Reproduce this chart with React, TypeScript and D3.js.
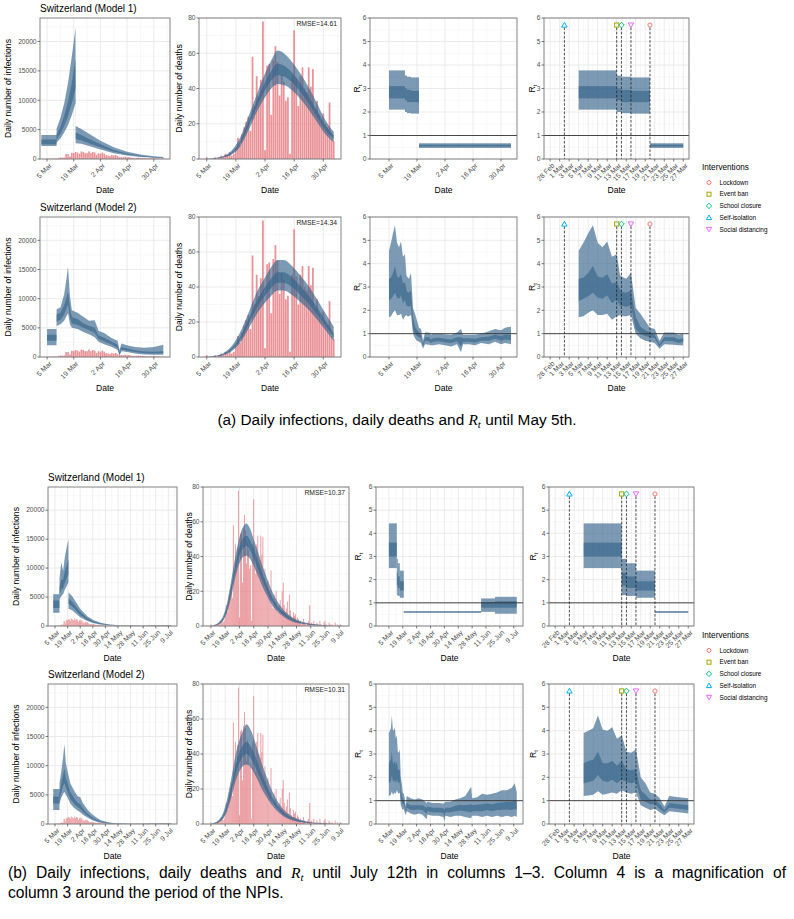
import React, { useLayoutEffect, useRef, useState } from "react";
import * as d3 from "d3";

type Band = [string, number, number, number, number]; // date, lo95, lo50, hi50, hi95
type Step = [string, string, number, number, number, number]; // start, end, lo95, lo50, hi50, hi95

const FONT = "'Liberation Sans', Arial, Helvetica, sans-serif";
const pd = (s: string): Date =>
  new Date(`2020-${s}${s.includes("T") ? ":00:00Z" : "T00:00:00Z"}`);

// ---------------- DATA ----------------
const DAY0 = "03-01";
// reported daily deaths, 1 Mar .. 12 Jul
const DEATHS = [
  0, 0, 0, 0, 1, 0, 0, 0, 1, 0, 1, 2, 1, 3, 2, 4, 2, 3, 6, 12, 8, 14, 18, 21, 24, 16, 58, 30, 47, 35, 45,
  78, 5, 53, 54, 25, 56, 64, 55, 36, 48, 44, 33, 35, 3, 47, 73, 46, 30, 47, 52, 40, 38, 52, 41, 51, 28, 33, 25, 22, 26,
  20, 18, 32, 12, 10, 18, 14, 20, 10, 8, 12, 15, 9, 20, 25, 12, 8, 10, 14, 6, 18, 9, 5, 4, 8, 6, 7, 3, 5, 4, 2,
  3, 1, 2, 4, 2, 1, 0, 2, 3, 12, 1, 2, 0, 3, 1, 0, 2, 1, 0, 3, 1, 0, 0, 2, 3, 1, 0, 0, 2, 1,
  0, 1, 0, 0, 2, 0, 1, 0, 0, 1, 0, 0,
];
// reported daily cases, 1 Mar .. 12 Jul
const CASES = [
  9, 8, 6, 10, 26, 30, 60, 55, 68, 42, 157, 241, 234, 254, 859, 841, 450, 1066, 1000, 1200, 1100, 900, 1300, 1200, 1000, 1000, 1300, 1000, 1200, 1100, 700,
  1000, 900, 1100, 900, 650, 600, 500, 700, 600, 700, 500, 300, 350, 300, 400, 300, 350, 250, 200, 150, 200, 250, 200, 180, 150, 100, 80, 120, 100, 150,
  100, 80, 60, 50, 70, 60, 50, 40, 50, 40, 30, 40, 30, 25, 30, 20, 25, 30, 20, 15, 20, 25, 20, 15, 10, 15, 20, 25, 30, 20, 25,
  30, 25, 20, 25, 30, 20, 25, 15, 20, 25, 30, 35, 20, 25, 30, 40, 35, 30, 40, 50, 45, 40, 60, 55, 50, 60, 70, 65, 60, 55,
  80, 90, 100, 110, 70, 60, 100, 120, 110, 90, 80, 70,
];

const INF_M1_MAY: Band[] = [
  ["03-02", 2200, 2500, 3300, 4100],
  ["03-09T23", 2200, 2500, 3300, 4100],
  ["03-10", 2800, 3300, 4200, 5200],
  ["03-12", 3500, 4300, 5500, 7000],
  ["03-14", 4500, 5600, 7400, 9500],
  ["03-16", 5800, 7300, 9800, 13000],
  ["03-18", 7500, 9500, 13000, 17500],
  ["03-19T22", 9500, 12000, 17000, 22300],
  ["03-20", 2700, 3400, 4500, 5600],
  ["03-23", 2600, 3200, 4100, 5100],
  ["03-27", 2200, 2700, 3400, 4300],
  ["04-02", 1600, 2000, 2500, 3100],
  ["04-09", 1000, 1250, 1550, 2000],
  ["04-16", 600, 750, 950, 1250],
  ["04-23", 350, 450, 570, 780],
  ["04-30", 200, 260, 340, 470],
  ["05-05", 130, 170, 230, 330],
];
const INF_M2_MAY: Band[] = [
  ["03-05", 2000, 2800, 3800, 4800],
  ["03-09T23", 2000, 2800, 3800, 4800],
  ["03-10", 5300, 6100, 7300, 8200],
  ["03-12", 5600, 6400, 7600, 8500],
  ["03-14", 6200, 7300, 8900, 10800],
  ["03-15", 6900, 8200, 10000, 13000],
  ["03-16", 7500, 9000, 11200, 15500],
  ["03-17", 5600, 6800, 8300, 10500],
  ["03-18", 5000, 5800, 6800, 8000],
  ["03-21", 4800, 5500, 6500, 7600],
  ["03-24", 4300, 5000, 5800, 6900],
  ["03-27", 3900, 4600, 5300, 6200],
  ["03-30", 3400, 4100, 5000, 6300],
  ["04-01", 2600, 3100, 3700, 4500],
  ["04-04", 2200, 2700, 3300, 4100],
  ["04-08", 1700, 2100, 2600, 3200],
  ["04-11", 1200, 1600, 2100, 2800],
  ["04-12", 200, 400, 700, 1200],
  ["04-13", 1000, 1300, 1700, 2300],
  ["04-16", 850, 1100, 1450, 2000],
  ["04-20", 600, 850, 1150, 1700],
  ["04-25", 450, 650, 950, 1600],
  ["04-30", 400, 600, 900, 1700],
  ["05-05", 400, 650, 1000, 2100],
];
const INF_M1_JUL: Band[] = [
  ["03-03", 2300, 3100, 4400, 5500],
  ["03-09T23", 2300, 3100, 4400, 5500],
  ["03-10", 4500, 5400, 6700, 8200],
  ["03-12", 5200, 6300, 8000, 11000],
  ["03-14", 5500, 6500, 8000, 9500],
  ["03-16", 6300, 7500, 9500, 12000],
  ["03-19T22", 7500, 9000, 11500, 15000],
  ["03-20", 3000, 3800, 4800, 5800],
  ["03-24", 2700, 3400, 4200, 5200],
  ["04-02", 1500, 1900, 2400, 3000],
  ["04-10", 850, 1050, 1350, 1700],
  ["04-17", 480, 600, 780, 1000],
  ["04-25", 250, 320, 420, 560],
  ["05-03", 130, 170, 230, 310],
  ["05-15", 50, 65, 90, 130],
  ["06-01", 15, 20, 28, 40],
  ["06-10", 10, 14, 20, 30],
  ["06-22", 12, 18, 28, 45],
  ["07-12", 15, 25, 40, 70],
];
const INF_M2_JUL: Band[] = [
  ["03-03", 2400, 3500, 4700, 6000],
  ["03-09T23", 2400, 3500, 4700, 6000],
  ["03-10", 3500, 4300, 5500, 7000],
  ["03-12", 4500, 5500, 7000, 9000],
  ["03-14", 5200, 6500, 8500, 11500],
  ["03-15T12", 5500, 7000, 9500, 13700],
  ["03-17", 5000, 6300, 8000, 10500],
  ["03-19", 4500, 5500, 7000, 9000],
  ["03-22", 3500, 4300, 5500, 7000],
  ["03-26", 2800, 3500, 4500, 5800],
  ["03-30", 2300, 2900, 3700, 4800],
  ["04-02", 2000, 2600, 3400, 4600],
  ["04-05", 1600, 2100, 2700, 3600],
  ["04-10", 1100, 1400, 1800, 2500],
  ["04-15", 700, 900, 1200, 1700],
  ["04-20", 400, 550, 750, 1100],
  ["04-25", 220, 310, 430, 650],
  ["05-02", 100, 150, 220, 350],
  ["05-10", 40, 60, 90, 150],
  ["05-20", 15, 25, 40, 70],
  ["06-01", 8, 12, 20, 40],
  ["06-20", 10, 15, 25, 50],
  ["07-12", 15, 25, 45, 90],
];

const DEA_M1_MAY: Band[] = [
  ["03-05", 0, 0, 0.05, 0.1],
  ["03-09", 0.2, 0.3, 0.4, 0.6],
  ["03-13", 0.8, 1.0, 1.3, 1.7],
  ["03-17", 2.5, 3.0, 3.8, 4.8],
  ["03-21", 7, 8.5, 10, 12],
  ["03-25", 16, 18.5, 21, 24],
  ["03-29", 26.5, 29.5, 33, 36.5],
  ["04-02", 35, 39, 43.5, 48.5],
  ["04-05", 40, 44.5, 50, 56],
  ["04-08", 42.5, 47.5, 54, 61.5],
  ["04-11", 42, 47, 53, 60],
  ["04-15", 39, 43.5, 49, 55],
  ["04-19", 34, 38, 43, 48.5],
  ["04-23", 28, 31.5, 35.5, 40.5],
  ["04-27", 21, 24, 27.5, 31.5],
  ["05-01", 14, 16.5, 19, 22],
  ["05-05", 9.5, 11.5, 13.5, 15.5],
];
const DEA_M2_MAY: Band[] = [
  ["03-05", 0, 0, 0.05, 0.1],
  ["03-09", 0.2, 0.3, 0.5, 0.7],
  ["03-13", 1, 1.3, 1.7, 2.2],
  ["03-17", 3.3, 4.1, 5.1, 6.3],
  ["03-21", 8, 9.5, 11.5, 14],
  ["03-25", 16, 18.5, 21.5, 25],
  ["03-29", 24.5, 28, 32, 37],
  ["04-02", 31, 35, 40, 45.5],
  ["04-05", 35, 39.5, 45, 51.5],
  ["04-08", 38, 42.5, 48.5, 55.5],
  ["04-11", 38, 42.5, 48.5, 55.5],
  ["04-15", 35.5, 40, 45.5, 52],
  ["04-19", 31.5, 35.5, 40.5, 46.5],
  ["04-23", 27, 30.5, 35, 40.5],
  ["04-27", 21.5, 24.5, 28.5, 33],
  ["05-01", 15.5, 18, 21, 25],
  ["05-05", 9, 11, 13.5, 17.5],
];
const DEA_M1_JUL: Band[] = [
  ["03-05", 0, 0, 0.05, 0.1],
  ["03-09", 0.2, 0.3, 0.5, 0.7],
  ["03-13", 1, 1.3, 1.7, 2.2],
  ["03-17", 3, 3.8, 4.7, 5.8],
  ["03-21", 8, 9.5, 11.5, 13.5],
  ["03-25", 17, 20, 23, 26.5],
  ["03-29", 28, 31.5, 35.5, 40],
  ["04-02", 36, 40.5, 45.5, 51],
  ["04-06", 40, 45, 51, 57.5],
  ["04-09", 40.5, 46, 52, 59],
  ["04-12", 39, 44, 50, 56.5],
  ["04-16", 34.5, 39, 44.5, 50],
  ["04-20", 29, 33, 38, 43],
  ["04-24", 23.5, 27, 31, 35.5],
  ["04-28", 18.5, 21.5, 25, 29],
  ["05-03", 13, 15, 18, 21.5],
  ["05-09", 8.5, 10, 12, 14.5],
  ["05-15", 5.5, 6.5, 8, 9.5],
  ["05-22", 3, 3.8, 4.7, 5.8],
  ["05-31", 1.4, 1.8, 2.3, 3],
  ["06-10", 0.6, 0.8, 1.1, 1.4],
  ["06-20", 0.25, 0.35, 0.5, 0.65],
  ["07-01", 0.1, 0.15, 0.2, 0.3],
  ["07-12", 0.05, 0.07, 0.1, 0.15],
];
const DEA_M2_JUL: Band[] = [
  ["03-05", 0, 0, 0.05, 0.1],
  ["03-09", 0.2, 0.3, 0.5, 0.8],
  ["03-13", 1, 1.3, 1.8, 2.5],
  ["03-17", 3, 3.8, 5, 6.5],
  ["03-21", 7.5, 9, 11.5, 14.5],
  ["03-25", 15, 18, 21.5, 26],
  ["03-29", 24, 28, 33, 39],
  ["04-02", 30, 35, 41, 48],
  ["04-06", 33.5, 39, 45.5, 54],
  ["04-09", 34, 40, 47, 57],
  ["04-12", 33, 38.5, 45.5, 55],
  ["04-16", 29.5, 34.5, 41, 49.5],
  ["04-20", 25, 29.5, 35, 42],
  ["04-24", 20, 24, 28.5, 34.5],
  ["04-28", 16, 19, 23, 28],
  ["05-03", 11.5, 13.5, 16.5, 20.5],
  ["05-09", 7.5, 9, 11, 13.5],
  ["05-15", 4.5, 5.5, 7, 8.5],
  ["05-22", 2.5, 3.2, 4, 5],
  ["05-31", 1.2, 1.5, 2, 2.6],
  ["06-10", 0.5, 0.65, 0.9, 1.2],
  ["06-20", 0.2, 0.3, 0.4, 0.55],
  ["07-01", 0.08, 0.12, 0.17, 0.25],
  ["07-12", 0.04, 0.06, 0.08, 0.12],
];

const RT_M1_MAY: Step[] = [
  ["03-05", "03-13", 2.1, 2.58, 3.1, 3.77],
  ["03-13", "03-14", 2.0, 2.5, 3.0, 3.55],
  ["03-14", "03-16", 1.95, 2.42, 2.94, 3.5],
  ["03-16", "03-20", 1.93, 2.42, 2.9, 3.47],
  ["03-20", "05-05", 0.47, 0.53, 0.61, 0.67],
];
const RT_M1_JUL: Step[] = [
  ["03-05", "03-13", 2.5, 3.0, 3.6, 4.43],
  ["03-13", "03-14", 1.33, 1.75, 2.3, 2.9],
  ["03-14", "03-16", 1.3, 1.64, 2.14, 2.71],
  ["03-16", "03-20", 1.22, 1.53, 1.93, 2.39],
  ["03-20", "06-06", 0.57, 0.59, 0.62, 0.64],
  ["06-06", "06-20", 0.61, 0.79, 1.03, 1.19],
  ["06-20", "07-12", 0.53, 0.79, 1.07, 1.26],
];
const RT_M2_MAY: Band[] = [
  ["03-05", 1.7, 2.4, 3.35, 4.55],
  ["03-06", 1.75, 2.5, 3.4, 4.9],
  ["03-07", 1.9, 2.6, 3.6, 5.3],
  ["03-08", 2.0, 2.75, 3.9, 5.65],
  ["03-09", 1.8, 2.55, 3.45, 4.9],
  ["03-10", 1.8, 2.5, 3.4, 4.7],
  ["03-11", 1.85, 2.65, 3.55, 4.95],
  ["03-12", 1.6, 2.3, 3.15, 4.3],
  ["03-13", 1.75, 2.45, 3.2, 4.4],
  ["03-13T17", 1.8, 2.2, 2.9, 3.5],
  ["03-14", 1.75, 2.2, 2.8, 3.45],
  ["03-15", 1.75, 2.15, 2.75, 3.35],
  ["03-16", 1.8, 2.2, 2.85, 3.6],
  ["03-17", 1.0, 1.2, 1.7, 2.1],
  ["03-18", 0.8, 1.0, 1.3, 1.85],
  ["03-19", 0.7, 0.9, 1.15, 1.55],
  ["03-20", 0.65, 0.85, 1.05, 1.25],
  ["03-21", 0.6, 0.8, 0.95, 1.2],
  ["03-22", 0.35, 0.45, 0.55, 0.7],
  ["03-23", 0.55, 0.7, 0.85, 1.05],
  ["03-25", 0.52, 0.68, 0.85, 1.05],
  ["03-26", 0.5, 0.6, 0.75, 0.95],
  ["03-27", 0.5, 0.65, 0.8, 1.0],
  ["03-30", 0.55, 0.68, 0.82, 1.0],
  ["04-02", 0.5, 0.63, 0.78, 0.98],
  ["04-05", 0.45, 0.6, 0.75, 0.95],
  ["04-08", 0.55, 0.68, 0.85, 1.05],
  ["04-10", 0.2, 0.45, 0.85, 1.2],
  ["04-11", 0.55, 0.65, 0.8, 0.95],
  ["04-14", 0.55, 0.65, 0.8, 0.95],
  ["04-17", 0.5, 0.62, 0.78, 0.95],
  ["04-20", 0.6, 0.7, 0.85, 1.0],
  ["04-24", 0.55, 0.7, 0.88, 1.1],
  ["04-27", 0.65, 0.78, 0.95, 1.2],
  ["04-30", 0.55, 0.7, 0.9, 1.15],
  ["05-02", 0.6, 0.75, 0.95, 1.25],
  ["05-05", 0.55, 0.72, 0.95, 1.3],
];
const RT_M2_JUL: Band[] = [
  ["03-05", 1.2, 1.75, 2.6, 3.9],
  ["03-06", 1.22, 1.8, 2.7, 4.0],
  ["03-07", 1.25, 1.85, 2.75, 4.1],
  ["03-08", 1.4, 2.1, 3.1, 4.65],
  ["03-09", 1.25, 1.85, 2.6, 4.05],
  ["03-10", 1.3, 1.8, 2.6, 4.0],
  ["03-11", 1.35, 1.9, 2.7, 4.15],
  ["03-12", 1.3, 1.75, 2.5, 3.65],
  ["03-13", 1.45, 1.9, 2.7, 3.8],
  ["03-14", 1.35, 1.8, 2.35, 3.1],
  ["03-15", 1.3, 1.75, 2.3, 3.05],
  ["03-16", 1.35, 1.8, 2.35, 3.2],
  ["03-17", 0.8, 1.05, 1.45, 2.0],
  ["03-18", 0.7, 0.95, 1.25, 1.75],
  ["03-19", 0.6, 0.85, 1.05, 1.35],
  ["03-20", 0.65, 0.85, 1.05, 1.3],
  ["03-21", 0.5, 0.65, 0.85, 1.1],
  ["03-22", 0.38, 0.5, 0.6, 0.75],
  ["03-23", 0.55, 0.7, 0.9, 1.2],
  ["03-25", 0.5, 0.65, 0.85, 1.15],
  ["03-27", 0.45, 0.6, 0.8, 1.1],
  ["03-31", 0.4, 0.6, 0.8, 1.05],
  ["04-04", 0.45, 0.62, 0.8, 1.1],
  ["04-08", 0.4, 0.6, 0.8, 1.05],
  ["04-12", 0.2, 0.45, 0.7, 0.9],
  ["04-13", 0.4, 0.55, 0.75, 0.95],
  ["04-18", 0.35, 0.5, 0.7, 0.9],
  ["04-24", 0.35, 0.5, 0.7, 0.9],
  ["04-29", 0.3, 0.48, 0.68, 0.88],
  ["04-30", 0.1, 0.3, 0.6, 0.9],
  ["05-01", 0.35, 0.5, 0.7, 0.95],
  ["05-06", 0.3, 0.5, 0.7, 0.95],
  ["05-11", 0.35, 0.55, 0.78, 1.05],
  ["05-16", 0.35, 0.58, 0.82, 1.1],
  ["05-21", 0.3, 0.55, 0.8, 1.2],
  ["05-27", 0.25, 0.5, 0.85, 1.6],
  ["05-28", 0.35, 0.55, 0.8, 1.1],
  ["06-02", 0.35, 0.55, 0.82, 1.15],
  ["06-07", 0.3, 0.55, 0.85, 1.3],
  ["06-12", 0.35, 0.6, 0.88, 1.25],
  ["06-17", 0.3, 0.55, 0.85, 1.3],
  ["06-22", 0.35, 0.6, 0.9, 1.35],
  ["06-27", 0.3, 0.6, 0.92, 1.45],
  ["07-02", 0.35, 0.62, 0.95, 1.45],
  ["07-07", 0.3, 0.6, 0.95, 1.55],
  ["07-10", 0.35, 0.65, 1.0, 1.75],
  ["07-12", 0.3, 0.6, 0.95, 1.35],
];

const TITLES = ["Switzerland (Model 1)", "Switzerland (Model 2)", "Switzerland (Model 1)", "Switzerland (Model 2)"];
const RMSE = ["RMSE=14.61", "RMSE=14.34", "RMSE=10.37", "RMSE=10.31"];

const TICKS_MAY = ["03-05", "03-19", "04-02", "04-16", "04-30"];
const TICKS_JUL = ["03-05", "03-19", "04-02", "04-16", "04-30", "05-14", "05-28", "06-11", "06-25", "07-09"];
const TICKS_ZOOM = ["02-28", "03-01", "03-03", "03-05", "03-07", "03-09", "03-11", "03-13", "03-15", "03-17", "03-19", "03-21", "03-23", "03-25", "03-27"];
const INF_TICKS = [0, 5000, 10000, 15000, 20000];
const DEA_TICKS = [0, 20, 40, 60, 80];
const RT_TICKS = [0, 1, 2, 3, 4, 5, 6];

const NPI_NAMES = ["Lockdown", "Event ban", "School closure", "Self-isolation", "Social distancing"];
const NPI_DATES = ["03-20", "03-13", "03-14", "03-02", "03-16"];
const NPI_COLORS = ["#F8766D", "#A3A500", "#00BF7D", "#00B0F6", "#E76BF3"];

// ---------------- LAYOUT ----------------
const TOP_COLS = [[40, 170], [199, 341], [370, 517], [544, 689]];
const BOT_COLS = [[48, 177], [203, 349], [376, 523], [549, 694]];
const ROWS = [
  { T: 18, B: 159, cols: TOP_COLS, ylab: [7.5, 179, 356.7, 531.7], dateY: 193, may: true },
  { T: 217, B: 357, cols: TOP_COLS, ylab: [7.5, 179, 356.7, 531.7], dateY: 391, may: true },
  { T: 487, B: 626, cols: BOT_COLS, ylab: [15.8, 189, 358.3, 532.5], dateY: 661, may: false },
  { T: 684, B: 824, cols: BOT_COLS, ylab: [15.8, 189, 358.3, 532.5], dateY: 859, may: false },
];
const XD_MAY12: [string, string] = ["03-01T07", "05-08T12"];
const XD_MAY3: [string, string] = ["02-24T12", "05-08T00"];
const XD_JUL12: [string, string] = ["02-26T05", "07-18T14"];
const XD_JUL3: [string, string] = ["02-21T00", "07-18T07"];
const XD_ZOOM: [string, string] = ["02-26T17", "03-28T05"];

const BAND = "#36648B";
const BAR = "#e3787e";
const TXT = "#4d4d4d";
const CAP = 15.6;

type XS = d3.ScaleTime<number, number>;
type YS = d3.ScaleLinear<number, number>;

function Marker({ shape, cx, cy, color, s = 2.3 }: { shape: number; cx: number; cy: number; color: string; s?: number }) {
  const c = { fill: "none", stroke: color, strokeWidth: 1 };
  if (shape === 0) return <circle cx={cx} cy={cy} r={s} {...c} />;
  if (shape === 1) return <rect x={cx - s} y={cy - s} width={2 * s} height={2 * s} {...c} />;
  if (shape === 2)
    return <path d={`M${cx},${cy - s * 1.35}L${cx + s * 1.35},${cy}L${cx},${cy + s * 1.35}L${cx - s * 1.35},${cy}Z`} {...c} />;
  if (shape === 3)
    return <path d={`M${cx},${cy - s * 1.3}L${cx + s * 1.3},${cy + s}L${cx - s * 1.3},${cy + s}Z`} {...c} />;
  return <path d={`M${cx},${cy + s * 1.3}L${cx + s * 1.3},${cy - s}L${cx - s * 1.3},${cy - s}Z`} {...c} />;
}

type PanelProps = {
  id: string;
  L: number; R: number; T: number; B: number;
  xd: [string, string];
  ticks: string[];
  kind: "inf" | "dea" | "rt";
  ylabX: number;
  dateY: number;
  clipEnd?: string;
  draw: (x: XS, y: YS) => React.ReactNode;
  over?: (x: XS, y: YS) => React.ReactNode;
};

function Panel(p: PanelProps) {
  const x = d3.scaleUtc().domain([pd(p.xd[0]), pd(p.xd[1])]).range([p.L, p.R]);
  const yMax = p.kind === "inf" ? 24000 : p.kind === "dea" ? 80 : 6;
  const y = d3.scaleLinear().domain([0, yMax]).range([p.B, p.T]);
  const yt = p.kind === "inf" ? INF_TICKS : p.kind === "dea" ? DEA_TICKS : RT_TICKS;
  const ys = yt[1] - yt[0];
  const ym = yt.map((v) => v + ys / 2).filter((v) => v < yMax);
  const xt = p.ticks.map(pd);
  const dx = +xt[1] - +xt[0];
  const [d0, d1] = x.domain();
  const xm = [new Date(+xt[0] - dx / 2), ...xt.map((t) => new Date(+t + dx / 2))].filter((t) => t >= d0 && t <= d1);
  const fmt = d3.utcFormat("%-d %b");
  const cx1 = p.clipEnd ? x(pd(p.clipEnd)) : p.R;
  const ylab =
    p.kind === "inf" ? "Daily number of infections" : p.kind === "dea" ? "Daily number of deaths" : null;
  return (
    <g>
      <defs>
        <clipPath id={p.id}>
          <rect x={p.L} y={p.T} width={cx1 - p.L} height={p.B - p.T} />
        </clipPath>
      </defs>
      <rect x={p.L} y={p.T} width={p.R - p.L} height={p.B - p.T} fill="#fff" />
      {ym.map((v) => (
        <line key={"ym" + v} x1={p.L} x2={p.R} y1={y(v)} y2={y(v)} stroke="#f1f1f1" strokeWidth={0.5} />
      ))}
      {xm.map((t, i) => (
        <line key={"xm" + i} x1={x(t)} x2={x(t)} y1={p.T} y2={p.B} stroke="#f1f1f1" strokeWidth={0.5} />
      ))}
      {yt.map((v) => (
        <line key={"yt" + v} x1={p.L} x2={p.R} y1={y(v)} y2={y(v)} stroke="#e6e6e6" strokeWidth={0.8} />
      ))}
      {xt.map((t, i) => (
        <line key={"xt" + i} x1={x(t)} x2={x(t)} y1={p.T} y2={p.B} stroke="#e6e6e6" strokeWidth={0.8} />
      ))}
      <g clipPath={`url(#${p.id})`}>{p.draw(x, y)}</g>
      {p.over && p.over(x, y)}
      <rect x={p.L} y={p.T} width={p.R - p.L} height={p.B - p.T} fill="none" stroke="#777" strokeWidth={0.9} />
      {yt.map((v) => (
        <g key={"yl" + v}>
          <line x1={p.L - 2.5} x2={p.L} y1={y(v)} y2={y(v)} stroke="#444" strokeWidth={0.7} />
          <text x={p.L - 3.5} y={y(v)} dy="0.35em" textAnchor="end" fontSize={6.6} fill={TXT}>
            {v}
          </text>
        </g>
      ))}
      {xt.map((t, i) => (
        <g key={"xl" + i}>
          <line x1={x(t)} x2={x(t)} y1={p.B} y2={p.B + 2.5} stroke="#444" strokeWidth={0.7} />
          <text
            transform={`translate(${x(t) + 1.5},${p.B + 3.5}) rotate(-45)`}
            dy="0.7em"
            textAnchor="end"
            fontSize={7}
            fill={TXT}
          >
            {fmt(t)}
          </text>
        </g>
      ))}
      <text x={(p.L + p.R) / 2} y={p.dateY} textAnchor="middle" fontSize={8.6} fill="#000">
        Date
      </text>
      <text
        transform={`translate(${p.ylabX},${(p.T + p.B) / 2}) rotate(-90)`}
        dy="0.35em"
        textAnchor="middle"
        fontSize={8.6}
        fill="#000"
      >
        {ylab !== null ? ylab : (
          <>
            R<tspan fontSize={6} dy={2}>t</tspan>
          </>
        )}
      </text>
    </g>
  );
}

function bandPaths(data: Band[], x: XS, y: YS, curve: d3.CurveFactory) {
  const a95 = d3.area<Band>().x((d) => x(pd(d[0]))).y0((d) => y(d[1])).y1((d) => y(d[4])).curve(curve);
  const a50 = d3.area<Band>().x((d) => x(pd(d[0]))).y0((d) => y(d[2])).y1((d) => y(d[3])).curve(curve);
  return (
    <g>
      <path d={a95(data) || ""} fill={BAND} fillOpacity={0.65} />
      <path d={a50(data) || ""} fill={BAND} fillOpacity={0.65} />
    </g>
  );
}

function stepRects(data: Step[], x: XS, y: YS) {
  return (
    <g>
      {data.map((s, i) => (
        <rect key={"a" + i} x={x(pd(s[0]))} width={x(pd(s[1])) - x(pd(s[0]))} y={y(s[5])} height={y(s[2]) - y(s[5])} fill={BAND} fillOpacity={0.65} />
      ))}
      {data.map((s, i) => (
        <rect key={"b" + i} x={x(pd(s[0]))} width={x(pd(s[1])) - x(pd(s[0]))} y={y(s[4])} height={y(s[3]) - y(s[4])} fill={BAND} fillOpacity={0.65} />
      ))}
    </g>
  );
}

function bars(vals: number[], n: number, x: XS, y: YS) {
  const t0 = pd(DAY0);
  return (
    <g>
      {vals.slice(0, n).map((v, i) => {
        const t = d3.utcDay.offset(t0, i);
        const w = (x(d3.utcDay.offset(t, 1)) - x(t)) * 0.85;
        return <rect key={i} x={x(t) - w / 2} y={y(v)} width={w} height={y(0) - y(v)} fill={BAR} fillOpacity={0.8} />;
      })}
    </g>
  );
}

function Legend({ y0 }: { y0: number }) {
  return (
    <g>
      <text x={702} y={y0} fontSize={8.2} fill="#000">
        Interventions
      </text>
      {NPI_NAMES.map((n, i) => (
        <g key={n}>
          <Marker shape={i} cx={709} cy={y0 + 12.5 + i * 11.7} color={NPI_COLORS[i]} s={2} />
          <text x={719.5} y={y0 + 12.5 + i * 11.7} dy="0.35em" fontSize={6.4} fill="#000">
            {n}
          </text>
        </g>
      ))}
    </g>
  );
}

function FitText({
  x, y, width, size, anchor = "start", mode, children,
}: {
  x: number; y: number; width: number; size: number; anchor?: "start" | "middle"; mode: "words" | "scale";
  children: React.ReactNode;
}) {
  const ref = useRef<SVGTextElement>(null);
  const [ws, setWs] = useState<number | null>(null);
  const [fs, setFs] = useState(size);
  useLayoutEffect(() => {
    const el = ref.current;
    if (!el || ws !== null) return;
    const len = el.getComputedTextLength();
    if (mode === "scale") {
      setFs((size * width) / len);
      setWs(0);
    } else {
      const n = (el.textContent || "").split(" ").length - 1;
      setWs(n > 0 ? Math.max(0, (width - len) / n) : 0);
    }
  }, [width]);
  return (
    <text
      ref={ref}
      x={x}
      y={y}
      fontSize={fs}
      textAnchor={anchor}
      style={{ wordSpacing: `${ws || 0}px` }}
      fill="#000"
    >
      {children}
    </text>
  );
}

const Rt = ({ size }: { size: number }) => (
  <>
    <tspan fontFamily="'Liberation Serif', 'DejaVu Serif', serif" fontStyle="italic">R</tspan>
    <tspan fontFamily="'Liberation Serif', 'DejaVu Serif', serif" fontStyle="italic" fontSize={size * 0.7} dy={size * 0.22}>t</tspan>
    <tspan dy={-size * 0.22}> </tspan>
  </>
);

export default function App() {
  const rowData = [
    { inf: INF_M1_MAY, dea: DEA_M1_MAY, step: RT_M1_MAY, rt: null as Band[] | null },
    { inf: INF_M2_MAY, dea: DEA_M2_MAY, step: null as Step[] | null, rt: RT_M2_MAY },
    { inf: INF_M1_JUL, dea: DEA_M1_JUL, step: RT_M1_JUL, rt: null as Band[] | null },
    { inf: INF_M2_JUL, dea: DEA_M2_JUL, step: null as Step[] | null, rt: RT_M2_JUL },
  ];
  return (
    <svg
      width={794}
      height={919}
      viewBox="0 0 794 919"
      style={{ position: "absolute", left: 0, top: 0, background: "#fff" }}
      fontFamily={FONT}
    >
      <rect width={794} height={919} fill="#fff" />
      {ROWS.map((r, ri) => {
        const d = rowData[ri];
        const n = r.may ? 66 : 134;
        const xd12 = r.may ? XD_MAY12 : XD_JUL12;
        const xd3 = r.may ? XD_MAY3 : XD_JUL3;
        const ticks = r.may ? TICKS_MAY : TICKS_JUL;
        const rtDraw = (x: XS, y: YS) =>
          d.step ? stepRects(d.step, x, y) : bandPaths(d.rt as Band[], x, y, d3.curveLinear);
        const oneLine = (x: XS, y: YS) => (
          <line x1={x.range()[0]} x2={x.range()[1]} y1={y(1)} y2={y(1)} stroke="#333" strokeWidth={0.9} />
        );
        return (
          <g key={ri}>
            <text x={r.cols[0][0]} y={r.T - 6} fontSize={10} fill="#000">
              {TITLES[ri]}
            </text>
            <Panel
              id={`c${ri}a`}
              L={r.cols[0][0]} R={r.cols[0][1]} T={r.T} B={r.B}
              xd={xd12} ticks={ticks} kind="inf" ylabX={r.ylab[0]} dateY={r.dateY}
              draw={(x, y) => (
                <>
                  {bars(CASES, n, x, y)}
                  {bandPaths(d.inf, x, y, d3.curveLinear)}
                </>
              )}
            />
            <Panel
              id={`c${ri}b`}
              L={r.cols[1][0]} R={r.cols[1][1]} T={r.T} B={r.B}
              xd={xd12} ticks={ticks} kind="dea" ylabX={r.ylab[1]} dateY={r.dateY}
              draw={(x, y) => (
                <>
                  {bars(DEATHS, n, x, y)}
                  {bandPaths(d.dea, x, y, d3.curveMonotoneX)}
                </>
              )}
              over={(x, y) => (
                <text x={x.range()[1] - 4} y={y.range()[1] + 8} textAnchor="end" fontSize={6.8} fill="#222">
                  {RMSE[ri]}
                </text>
              )}
            />
            <Panel
              id={`c${ri}c`}
              L={r.cols[2][0]} R={r.cols[2][1]} T={r.T} B={r.B}
              xd={xd3} ticks={ticks} kind="rt" ylabX={r.ylab[2]} dateY={r.dateY}
              draw={rtDraw}
              over={oneLine}
            />
            <Panel
              id={`c${ri}d`}
              L={r.cols[3][0]} R={r.cols[3][1]} T={r.T} B={r.B}
              xd={XD_ZOOM} ticks={TICKS_ZOOM} kind="rt" ylabX={r.ylab[3]} dateY={r.dateY}
              clipEnd="03-27"
              draw={rtDraw}
              over={(x, y) => (
                <>
                  {oneLine(x, y)}
                  {NPI_DATES.map((s, i) => (
                    <g key={s + i}>
                      <line
                        x1={x(pd(s))} x2={x(pd(s))} y1={y(5.7) + 2.5} y2={y(0)}
                        stroke="#222" strokeWidth={0.8} strokeDasharray="2.6,1.6"
                      />
                      <Marker shape={i} cx={x(pd(s))} cy={y(5.7)} color={NPI_COLORS[i]} s={2.1} />
                    </g>
                  ))}
                </>
              )}
            />
          </g>
        );
      })}
      <Legend y0={170} />
      <Legend y0={638} />
      <FitText x={397} y={425} width={359} size={CAP} anchor="middle" mode="scale">
        (a) Daily infections, daily deaths and <Rt size={CAP} />until May 5th.
      </FitText>
      <FitText x={8} y={878} width={778} size={CAP} mode="words">
        (b) Daily infections, daily deaths and <Rt size={CAP} />until July 12th in columns 1–3. Column 4 is a magnification of
      </FitText>
      <text x={8} y={898} fontSize={CAP} fill="#000">
        column 3 around the period of the NPIs.
      </text>
    </svg>
  );
}
